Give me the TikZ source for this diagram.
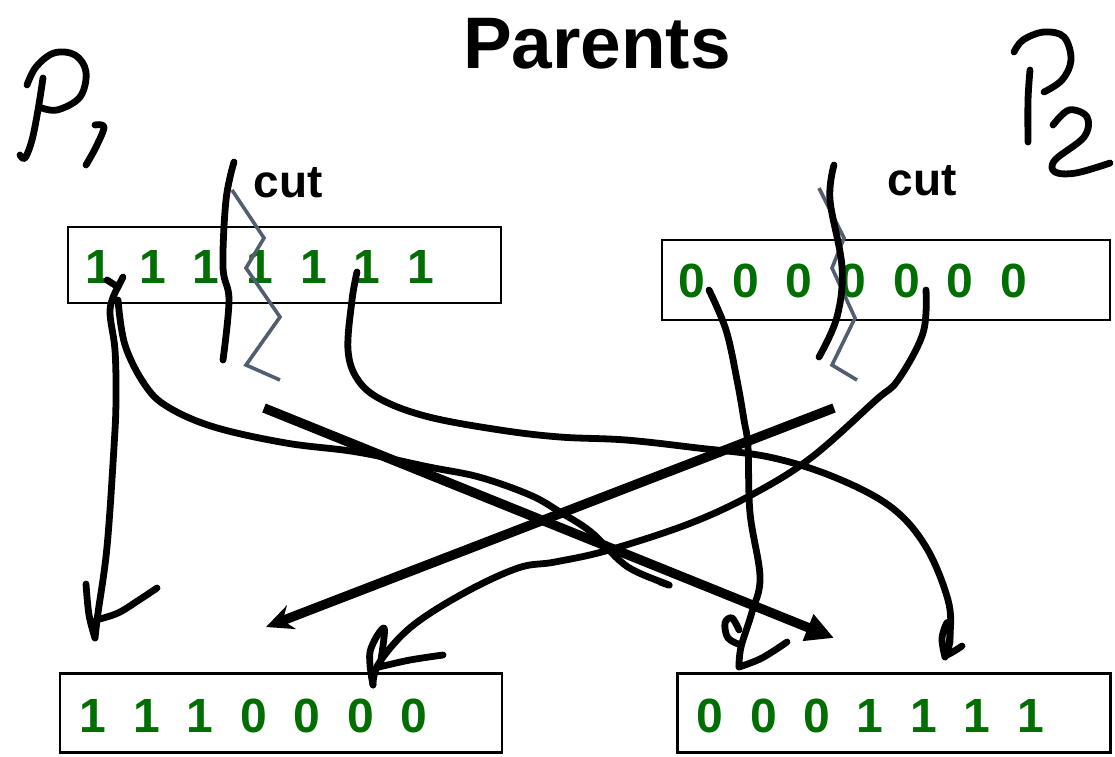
\documentclass[tikz,border=0pt]{standalone}
\usepackage{fontspec}
\setmainfont{Liberation Sans}
\usetikzlibrary{arrows.meta}
\definecolor{bitgreen}{RGB}{0,110,0}
\definecolor{cutgrey}{RGB}{80,94,112}

\begin{document}
\begin{tikzpicture}[x=1pt,y=-1pt,
  chrom/.style={draw, line width=2.2pt, inner sep=0pt},
  bit/.style={text=bitgreen, anchor=base, inner sep=0pt,
    font=\fontsize{48}{48}\selectfont\bfseries},
  lbl/.style={anchor=base, inner sep=0pt, font=\fontsize{46}{46}\selectfont\bfseries},
  hand/.style={line width=6.8pt, line cap=round, line join=round},
  zig/.style={cutgrey, line width=3.6pt, line join=miter},
  boldarrow/.style={line width=9.5pt},
]
\useasboundingbox (0,0) rectangle (1115,756);

% title
\node[anchor=base, inner sep=0pt, font=\fontsize{73}{73}\selectfont\bfseries] (title) at (597,68) {Parents};

% chromosome boxes
\node[chrom, minimum width=433pt, minimum height=76pt] (p1) at (284.5,265) {};
\node[chrom, minimum width=448pt, minimum height=80pt] (p2) at (886,280) {};
\node[chrom, minimum width=442pt, minimum height=79pt] (c1) at (281,713) {};
\node[chrom, minimum width=433pt, minimum height=79pt] (c2) at (894,713) {};

% genes
\foreach \d [count=\i] in {1,1,1,1,1,1,1}
  \node[bit] (p1b\i) at ({99+53.6*(\i-1)},283) {\d};
\foreach \d [count=\i] in {0,0,0,0,0,0,0}
  \node[bit] (p2b\i) at ({692+53.6*(\i-1)},297) {\d};
\foreach \d [count=\i] in {1,1,1,0,0,0,0}
  \node[bit] (c1b\i) at ({93+53.5*(\i-1)},732) {\d};
\foreach \d [count=\i] in {0,0,0,1,1,1,1}
  \node[bit] (c2b\i) at ({710+53.4*(\i-1)},732) {\d};

% cut labels
\node[lbl] (cut1) at (288,197) {cut};
\node[lbl] (cut2) at (922,195) {cut};

% handwritten P1
\draw[hand] plot[smooth, tension=0.6] coordinates {(43,78) (38,110) (32,140) (25,158) (20,155)};
\draw[hand] plot[smooth, tension=0.6] coordinates {(27,85) (36,67) (54,53) (75,55) (86,72) (80,97) (57,110) (39,107)};
\draw[hand] plot[smooth, tension=0.6] coordinates {(95,125) (104,127) (96,147) (86,165)};

% handwritten P2
\draw[hand] plot[smooth, tension=0.6] coordinates {(1030,70) (1028,100) (1028,142)};
\draw[hand] plot[smooth, tension=0.6] coordinates {(1014,52) (1023,40) (1044,32) (1064,37) (1071,60) (1062,80) (1044,92)};
\draw[hand] plot[smooth, tension=0.6] coordinates {(1053,125) (1069,110) (1087,117) (1084,137) (1055,160) (1055,172) (1076,173) (1110,163)};

% cut points: zigzag and hand stroke
\draw[zig] (232,190) -- (264,238) -- (246,268) -- (280,317) -- (246,365) -- (280,380);
\draw[zig] (819,188) -- (844,238) -- (832,268) -- (855,318) -- (832,365) -- (857,380);
\draw[hand] plot[smooth, tension=0.6] coordinates {(234,162) (226,200) (223,267) (229,300) (223,360)};
\draw[hand] plot[smooth, tension=0.6] coordinates {(834,165) (830,200) (842,267) (837,317) (819,357)};

% anchor points of the connectors
\coordinate (s1) at (118,287);
\coordinate (s2) at (118,300);
\coordinate (s3) at (357,272);
\coordinate (s4) at (264,408);
\coordinate (s5) at (834,408);
\coordinate (s6) at (709,290);
\coordinate (s7) at (926,290);
\coordinate (e1) at (95,638);
\coordinate (e2) at (669,585);
\coordinate (e3) at (945,657);
\coordinate (e4) at (834,638);
\coordinate (e5) at (266,627);
\coordinate (e6) at (739,667);
\coordinate (e7) at (373,685);

% first gene of P1 straight down
\draw[hand] (107,280) -- (s1) -- (123,277);
\draw[hand] plot[smooth, tension=0.6] coordinates {(s1) (110,310) (115,350) (116,400) (114,447) (107,547) (98,613) (e1)};
\draw[hand] plot[smooth, tension=0.6] coordinates {(86,584) (89,615) (e1)};
\draw[hand] plot[smooth, tension=0.6] coordinates {(96,620) (118,613) (139,600) (157,588)};

% first gene of P1 sweeping right
\draw[hand] plot[smooth, tension=0.6] coordinates {(s2) (125,345) (145,385) (168,407) (214,427) (286,443) (357,452) (429,467) (479,477) (530,495) (560,512) (591,532) (619,560) (637,572) (e2) (660,582)};

% sixth gene of P1 to the tail of child 2
\draw[hand] plot[smooth, tension=0.6] coordinates {(s3) (352,300) (348,350) (358,380) (382,400) (429,417) (500,430) (560,437) (626,440) (698,448) (769,457) (834,477) (891,507) (926,547) (948,600) (950,635) (e3)};
\draw[hand] plot[smooth, tension=0.6] coordinates {(e3) (942,638) (948,622) (950,642) (946,655) (962,646)};

% straight crossing arrows
\draw[boldarrow, -{Triangle[length=28pt,width=27pt]}] (s4) -- (e4);
\draw[boldarrow, -{Stealth[length=27pt,width=25pt,inset=9pt]}] (s5) -- (e5);

% first gene of P2 down to child 2
\draw[hand] plot[smooth, tension=0.6] coordinates {(s6) (726,330) (737,380) (744,420) (748,447) (750,513) (760,577) (752,612) (741,647) (e6)};
\draw[hand] plot[smooth, tension=0.6] coordinates {(741,645) (728,638) (725,623) (732,618) (739,630)};
\draw[hand] plot[smooth, tension=0.6] coordinates {(e6) (762,658) (787,642)};

% fifth gene of P2 down to child 1
\draw[hand] plot[smooth, tension=0.6] coordinates {(s7) (923,333) (898,380) (876,400) (812,457) (755,493) (691,523) (609,550) (555,562) (518,568) (464,593) (411,627) (379,663) (e7)};
\draw[hand] plot[smooth, tension=0.6] coordinates {(e7) (370,652) (384,628) (381,660) (379,667)};
\draw[hand] plot[smooth, tension=0.6] coordinates {(379,667) (410,660) (443,655)};

\end{tikzpicture}
\end{document}
